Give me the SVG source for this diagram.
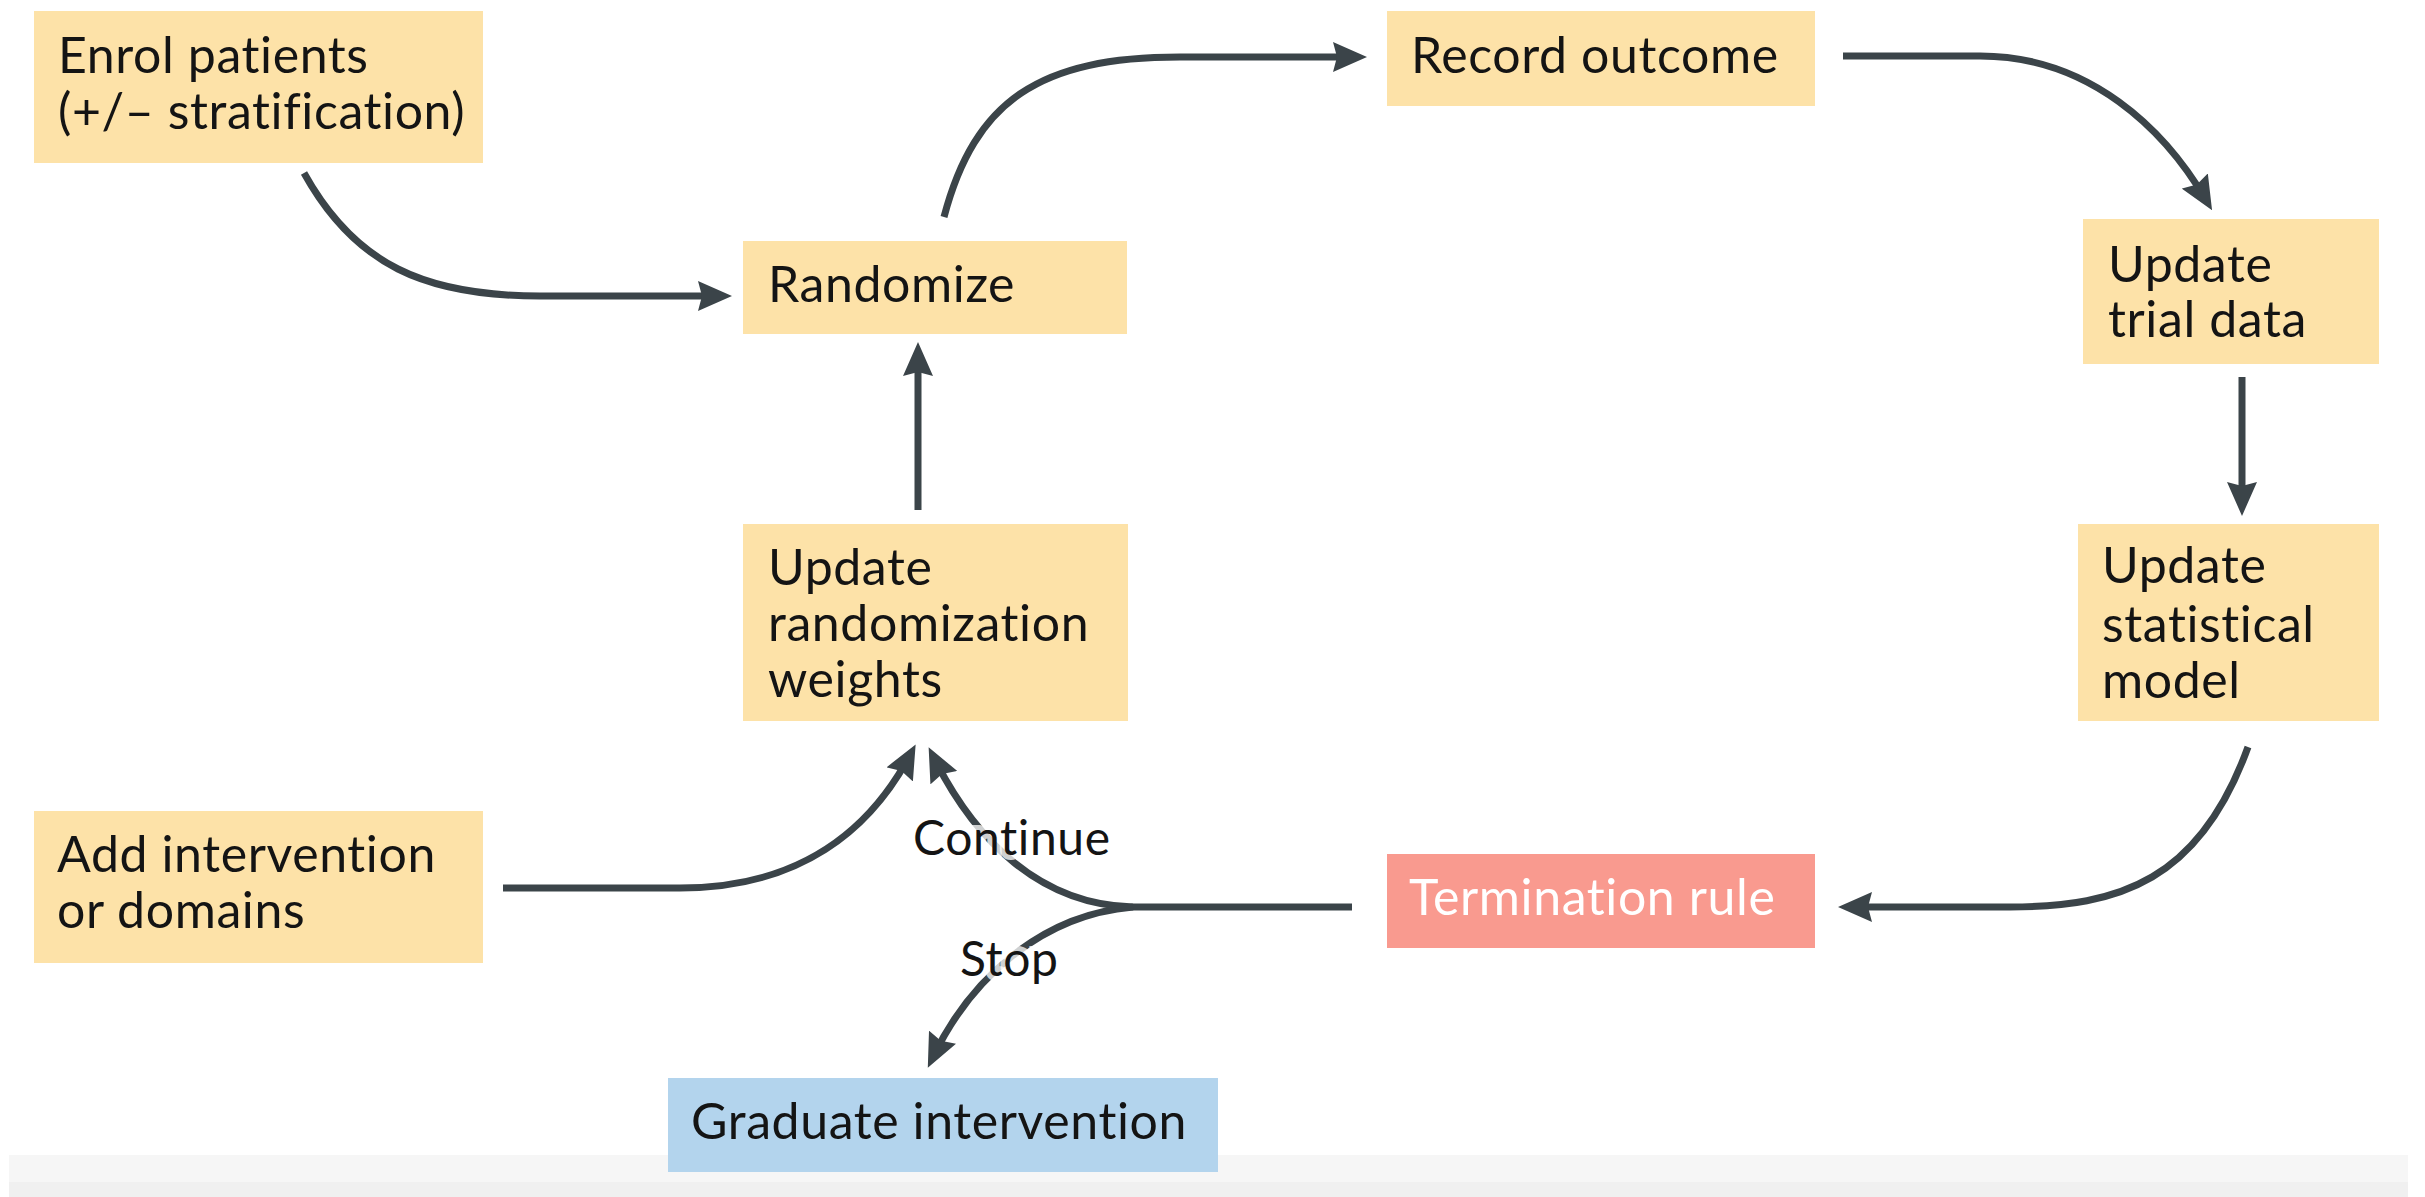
<svg xmlns="http://www.w3.org/2000/svg" width="2425" height="1197" viewBox="0 0 2425 1197">
<style>
.box{fill:#fde2a8}
.t{font-family:Lato,"Noto Sans","Liberation Sans",sans-serif;font-size:50px;fill:#141414;letter-spacing:0.6px}
.w{fill:#ffffff}
.lbl{font-family:Lato,"Noto Sans","Liberation Sans",sans-serif;font-size:48px;fill:#141414;stroke:#ffffff;stroke-opacity:0.75;stroke-width:10px;paint-order:stroke;letter-spacing:0.6px}
.c{fill:none;stroke:#3b4449;stroke-width:7}
.a{marker-end:url(#ah)}
</style>
<defs>
<marker id="ah" viewBox="0 0 34 30" refX="22" refY="15" markerWidth="34" markerHeight="30" markerUnits="userSpaceOnUse" orient="auto">
<path d="M0,0 L34,15 L0,30 L4,15 z" fill="#3b4449"/>
</marker>
</defs>
<rect width="2425" height="1197" fill="#ffffff"/>
<rect x="9" y="1155" width="2399" height="42" fill="#f6f6f6"/>
<rect x="9" y="1182" width="2399" height="15" fill="#f0f0f0"/>

<g id="connectors">
<path class="c a" d="M304,173 C355,265 425,296 540,296 L720,296"/>
<path class="c a" d="M944,217 C975,100 1040,57 1180,57 L1355,57"/>
<path class="c a" d="M1843,56 L1980,56 C2090,56 2165,130 2206,200"/>
<path class="c a" d="M2242,377 L2242,504"/>
<path class="c a" d="M2248,747 C2200,880 2120,907 2010,907 L1850,907"/>
<path class="c" d="M1352,907 L1133,907"/>
<path class="c a" d="M1133,907 C1040,905 975,840 934,758"/>
<path class="c a" d="M1133,907 C1040,915 970,980 933,1057"/>
<path class="c a" d="M503,888 L680,888 C800,888 870,830 910,755"/>
<path class="c a" d="M918,510 L918,354"/>
</g>

<g id="enrol"><rect class="box" x="34" y="11" width="449" height="152"/>
<text class="t" x="58" y="73">Enrol patients</text><text class="t" x="58" y="129">(+/– stratification)</text></g>
<g id="randomize"><rect class="box" x="743" y="241" width="384" height="93"/>
<text class="t" x="768" y="302">Randomize</text></g>
<g id="record"><rect class="box" x="1387" y="11" width="428" height="95"/>
<text class="t" x="1411" y="73">Record outcome</text></g>
<g id="trial"><rect class="box" x="2083" y="219" width="296" height="145"/>
<text class="t" x="2108" y="282">Update</text><text class="t" x="2108" y="337">trial data</text></g>
<g id="stat"><rect class="box" x="2078" y="524" width="301" height="197"/>
<text class="t" x="2102" y="583">Update</text><text class="t" x="2102" y="642">statistical</text><text class="t" x="2102" y="698">model</text></g>
<g id="weights"><rect class="box" x="743" y="524" width="385" height="197"/>
<text class="t" x="768" y="585">Update</text><text class="t" x="768" y="641">randomization</text><text class="t" x="768" y="697">weights</text></g>
<g id="add"><rect class="box" x="34" y="811" width="449" height="152"/>
<text class="t" x="57" y="872">Add intervention</text><text class="t" x="57" y="928">or domains</text></g>
<g id="termination"><rect x="1387" y="854" width="428" height="94" fill="#f99a8f"/>
<text class="t w" x="1409" y="915">Termination rule</text></g>
<g id="graduate"><rect x="668" y="1078" width="550" height="94" fill="#b3d4ed"/>
<text class="t" x="691" y="1139">Graduate intervention</text></g>
<g id="labels">
<text class="lbl" x="913" y="855">Continue</text>
<text class="lbl" x="960" y="976">Stop</text>
</g>
</svg>
